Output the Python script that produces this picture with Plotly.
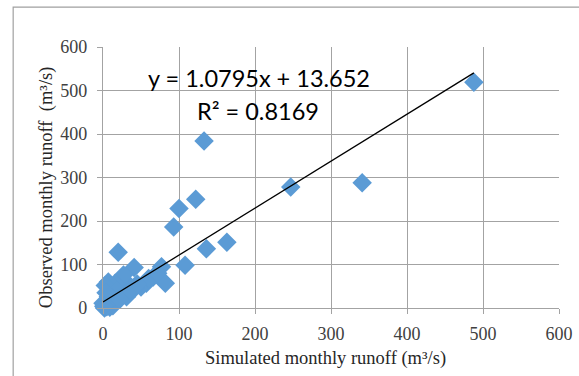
import plotly.graph_objects as go

# Simulated vs observed monthly runoff (m³/s)
sim = [488, 341, 247, 133, 122, 100, 93, 163, 136, 108, 20, 41, 77, 82, 66, 57,
       50, 42, 60, 29, 25, 27, 16, 7, 3, 31, 16, 7, 0, 2, 9, 13, 5, 10, 18, 12,
       4, 35, 45, 72, 22, 1]
obs = [519, 288, 278, 384, 250, 229, 186, 151, 136, 98, 128, 93, 95, 57, 71, 57,
       48, 46, 68, 62, 34, 76, 57, 60, 52, 26, 18, 26, 11, 0, 2, 5, 3, 15, 40, 22,
       35, 40, 55, 80, 20, 4]

slope = 1.0795
intercept = 13.652
r2 = 0.8169

x_ticks = [0, 100, 200, 300, 400, 500, 600]
y_ticks = [0, 100, 200, 300, 400, 500, 600]

tx = [min(sim), max(sim)]
ty = [slope * v + intercept for v in tx]

fig = go.Figure()
fig.add_trace(go.Scatter(
    x=sim, y=obs, mode="markers",
    marker=dict(symbol="diamond", size=15, color="#5B9BD5", line=dict(width=0)),
    showlegend=False, cliponaxis=False))
fig.add_trace(go.Scatter(
    x=tx, y=ty, mode="lines", line=dict(color="black", width=1.3),
    showlegend=False, cliponaxis=False))

grid = "#a3a3a3"
tickfont = dict(family="Liberation Serif", size=18, color="#404040")
fig.update_xaxes(range=[0, 600], tickvals=x_ticks, showgrid=True, gridcolor=grid,
                 gridwidth=1.3, zeroline=False, showline=True, linecolor=grid,
                 linewidth=1.3, mirror=False, ticks="outside", ticklen=5,
                 tickcolor=grid, tickfont=tickfont, ticklabelstandoff=4,
                 automargin=False)
fig.update_yaxes(range=[0, 600], tickvals=y_ticks, showgrid=True, gridcolor=grid,
                 gridwidth=1.3, zeroline=False, showline=True, linecolor=grid,
                 linewidth=1.3, ticks="outside", ticklen=5, tickcolor=grid,
                 tickfont=tickfont, ticklabelstandoff=6, automargin=False)

titlefont = dict(family="Liberation Serif", size=18.5, color="#262626")
eqfont = dict(family="Lato", size=23.5, color="black")
fig.update_layout(
    width=579, height=376,
    margin=dict(l=103, r=20, t=47, b=68),
    paper_bgcolor="white", plot_bgcolor="white",
    shapes=[dict(type="rect", xref="paper", yref="paper",
                 x0=-0.197, x1=1.6, y0=-0.6, y1=1.153,
                 line=dict(color="#a0a0a0", width=1.2), layer="below")],
    annotations=[
        dict(text="Simulated monthly runoff (m³/s)", xref="paper", yref="paper",
             x=0.487, y=-0.192, xanchor="center", yanchor="middle",
             showarrow=False, font=titlefont),
        dict(text="Observed monthly runoff  (m³/s)", xref="paper", yref="paper",
             x=-0.1235, y=0.4617, xanchor="center", yanchor="middle",
             textangle=-90, showarrow=False, font=titlefont),
        dict(text=f"y = {slope}x + {intercept}", x=204.6, y=528,
             xanchor="center", yanchor="middle", showarrow=False, font=eqfont),
        dict(text=f"R² = {r2}", x=203.3, y=453,
             xanchor="center", yanchor="middle", showarrow=False, font=eqfont),
    ],
)

fig.write_html("out.html")
